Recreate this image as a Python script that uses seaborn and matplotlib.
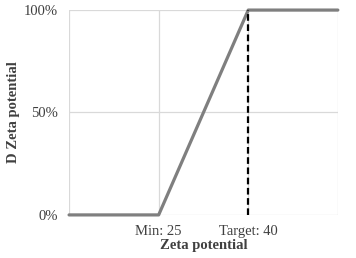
import numpy as np
import pandas as pd
import matplotlib
matplotlib.use('Agg')
import matplotlib.pyplot as plt
import seaborn as sns

# Data
zeta = [10, 25, 40, 55]
d_zeta = [0, 0, 100, 100]
tick_pos = [25, 40]
tick_labels = ['Min: 25', 'Target: 40']
target = 40

df = pd.DataFrame({'zeta': zeta, 'd_zeta': d_zeta})

sns.set_theme(style='white')
plt.rcParams['font.family'] = ['Liberation Serif', 'DejaVu Serif']

fig = plt.figure(figsize=(3.56, 2.58), dpi=100)
ax = fig.add_axes([0.194, 0.167, 0.755, 0.794])

grid_col = '#d9d9d9'
for x in zeta:
    ax.axvline(x, color=grid_col, lw=0.9, zorder=0)
for y in [0, 50, 100]:
    ax.axhline(y, color=grid_col, lw=0.9, zorder=0)

sns.lineplot(data=df, x='zeta', y='d_zeta', ax=ax, color='#7f7f7f', lw=2.3,
             clip_on=False, zorder=3)
ax.axvline(target, color='black', lw=1.6, ls=(0, (3, 1.6)), zorder=4)

ax.set_xlim(zeta[0], zeta[-1])
ax.set_ylim(0, 100)
ax.set_xticks(tick_pos)
ax.set_xticklabels(tick_labels)
ax.set_yticks([0, 50, 100])
ax.set_yticklabels(['0%', '50%', '100%'])
ax.tick_params(axis='both', length=0, labelsize=10.5, colors='#404040')
ax.tick_params(axis='x', pad=7)
ax.tick_params(axis='y', pad=8)

for s in ax.spines.values():
    s.set_visible(False)

ax.set_xlabel('Zeta potential', fontsize=10.5, fontweight='bold', color='#404040', labelpad=1)
ax.set_ylabel('D Zeta potential', fontsize=10.5, fontweight='bold', color='#404040', labelpad=3)

fig.savefig('out.png', dpi=100)
